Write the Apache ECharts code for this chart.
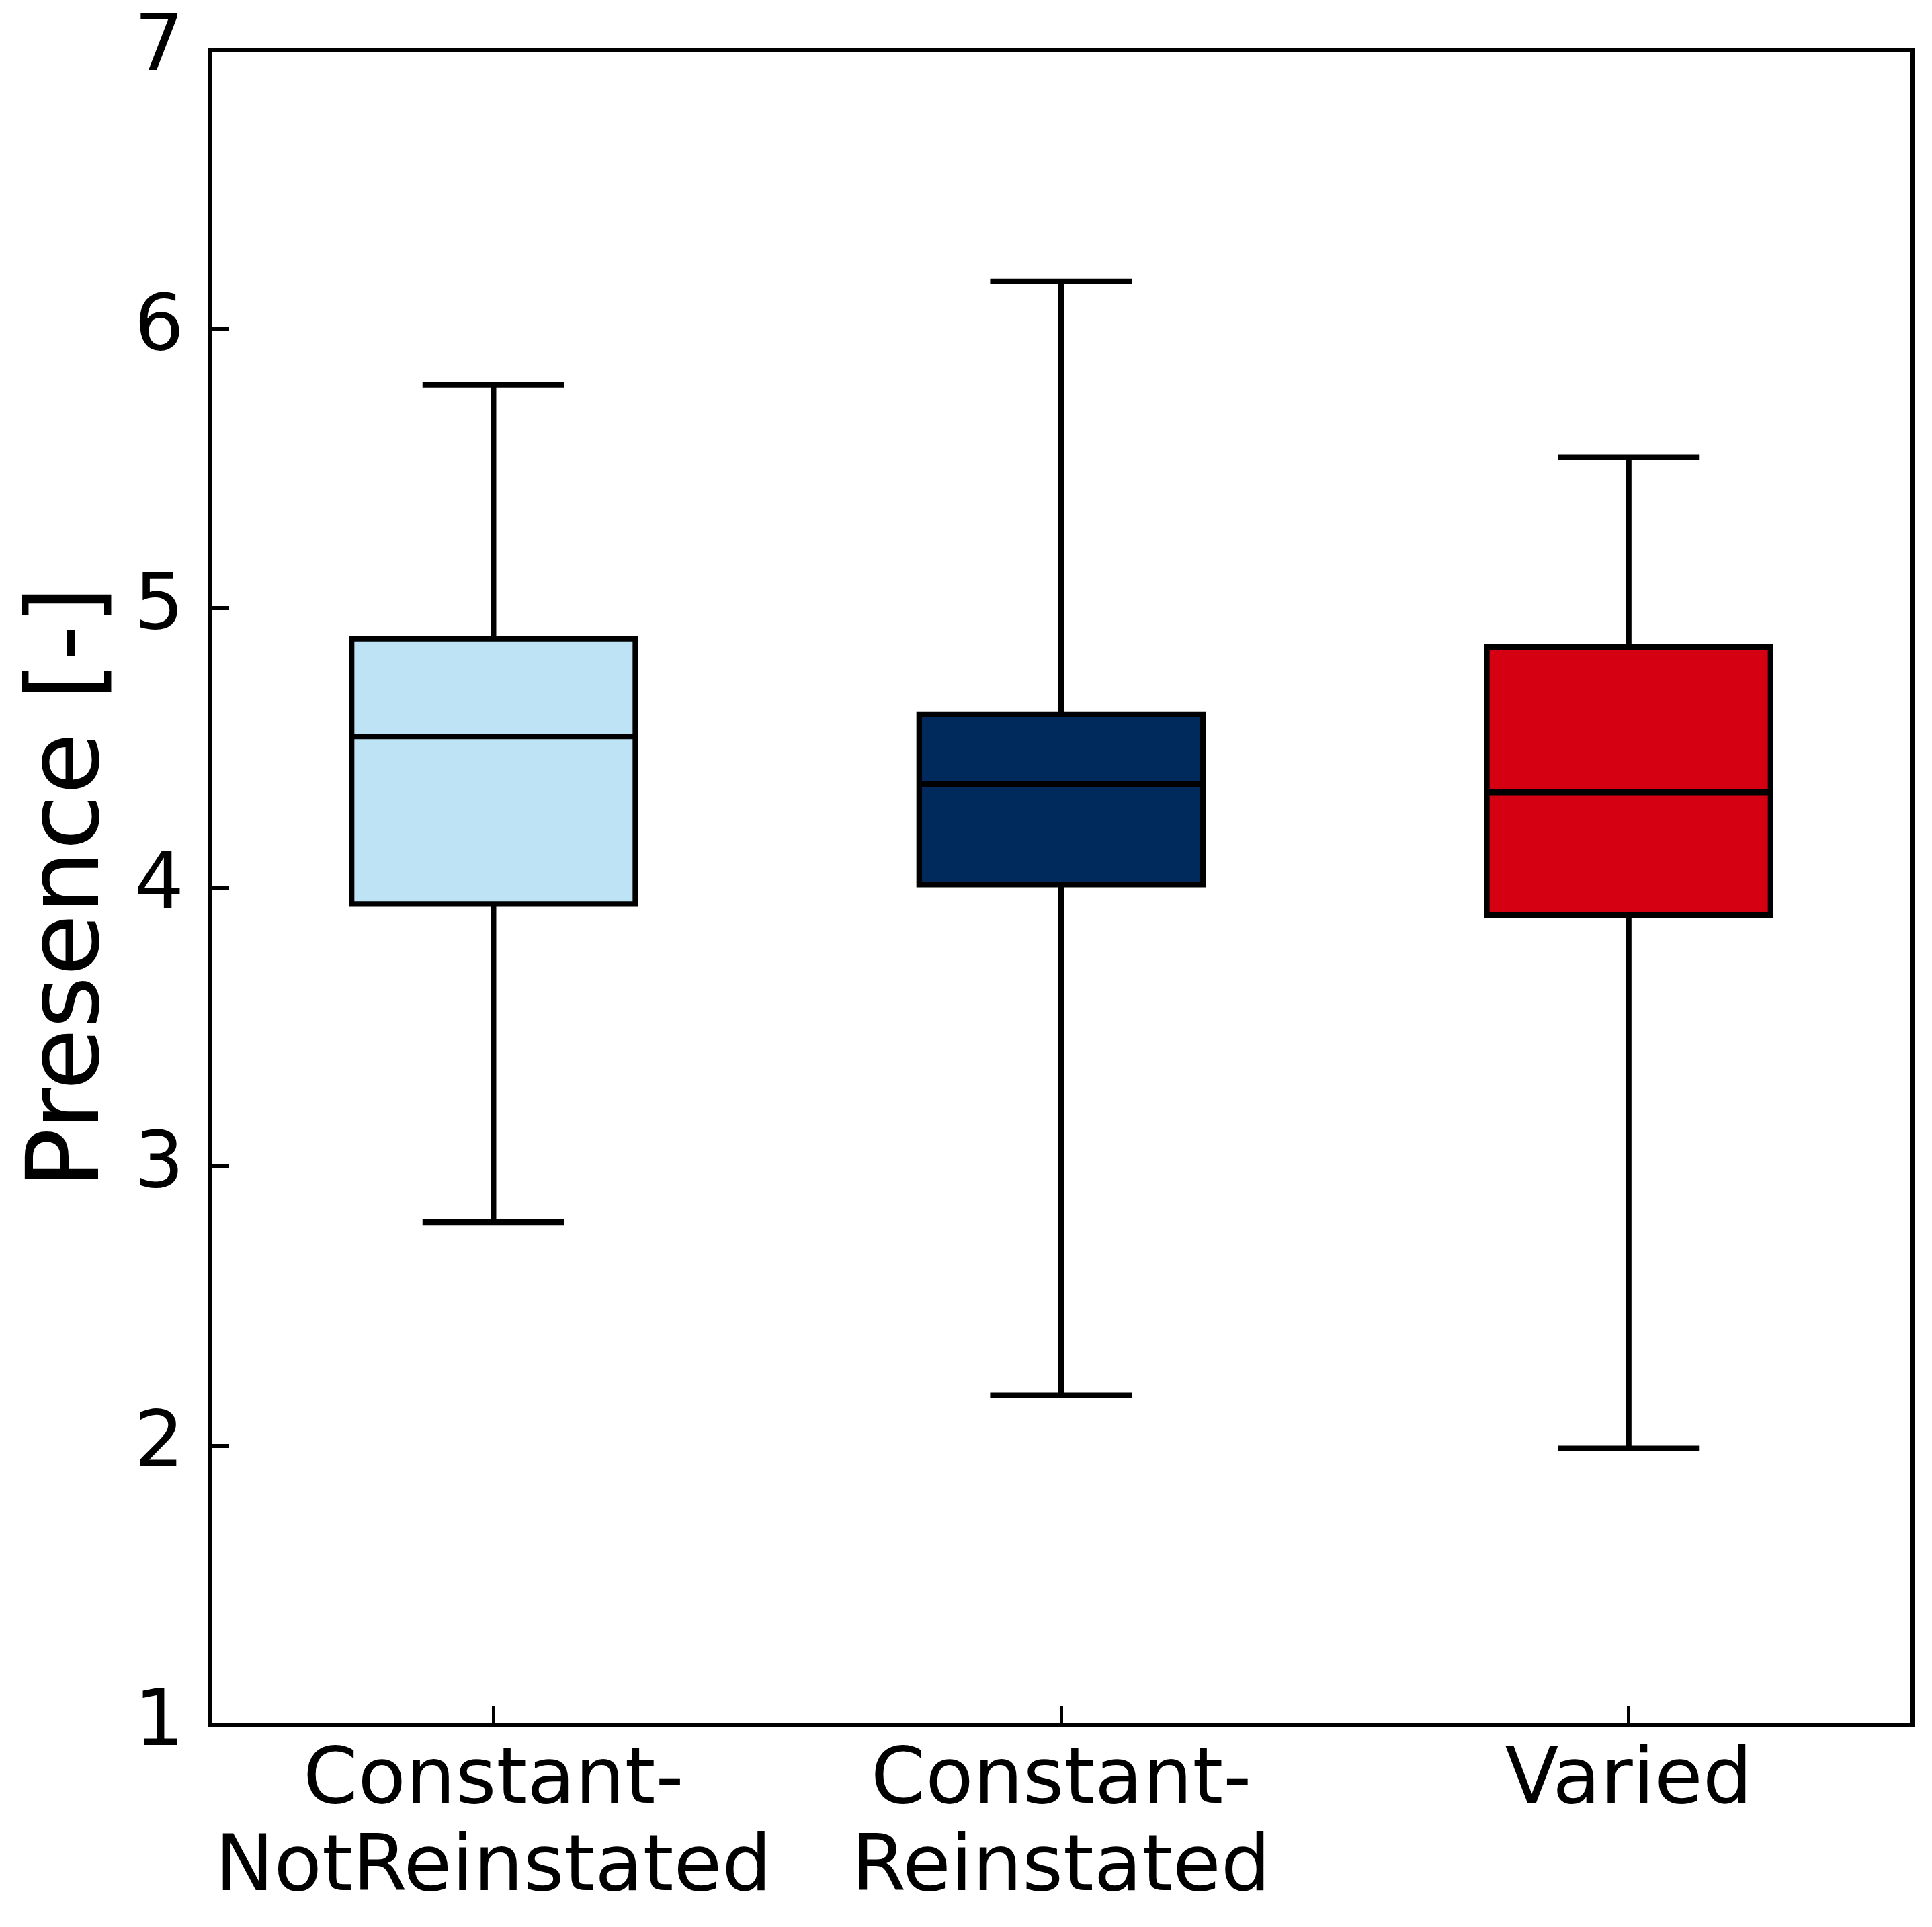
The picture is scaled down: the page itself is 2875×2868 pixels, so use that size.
<!DOCTYPE html>
<html>
<head>
<meta charset="utf-8">
<script src="https://cdn.jsdelivr.net/npm/echarts@6/dist/echarts.min.js"></script>
<style>
html,body{margin:0;padding:0;background:#fff;}
#chart{width:2875px;height:2868px;}
</style>
</head>
<body>
<div id="chart"></div>
<script>
// Data
var categories = ['Constant-\nNotReinstated', 'Constant-\nReinstated', 'Varied'];
// [lower whisker, Q1, median, Q3, upper whisker]
var notReinstated = [2.80, 3.94, 4.54, 4.89, 5.80];
var reinstated    = [2.18, 4.01, 4.37, 4.62, 6.17];
var varied        = [1.99, 3.90, 4.34, 4.86, 5.54];
var boxColors = ['#bee3f4', '#00295c', '#d50011'];
var yTicks = [1, 2, 3, 4, 5, 6, 7];

var stats = [notReinstated, reinstated, varied];
var seriesData = stats.map(function (s, i) { return [i].concat(s); });

var FONT = 'DejaVu Sans';
var chart = echarts.init(document.getElementById('chart'), null, {renderer: 'canvas'});

function renderBox(params, api) {
  var idx = api.value(0);
  var lo = api.coord([idx, api.value(1)]);
  var q1 = api.coord([idx, api.value(2)]);
  var md = api.coord([idx, api.value(3)]);
  var q3 = api.coord([idx, api.value(4)]);
  var hi = api.coord([idx, api.value(5)]);
  var band = api.size([1, 0])[0];
  var bw = band * 0.5;
  var cw = bw * 0.5;
  var x = lo[0];
  var lw = 8.3;
  var ls = {stroke: '#000', lineWidth: lw};
  return {
    type: 'group',
    children: [
      {type: 'line', shape: {x1: x, y1: q3[1], x2: x, y2: hi[1]}, style: ls},
      {type: 'line', shape: {x1: x, y1: q1[1], x2: x, y2: lo[1]}, style: ls},
      {type: 'line', shape: {x1: x - cw / 2, y1: hi[1], x2: x + cw / 2, y2: hi[1]}, style: ls},
      {type: 'line', shape: {x1: x - cw / 2, y1: lo[1], x2: x + cw / 2, y2: lo[1]}, style: ls},
      {type: 'rect', shape: {x: x - bw / 2, y: q3[1], width: bw, height: q1[1] - q3[1]},
        style: {fill: boxColors[idx], stroke: '#000', lineWidth: lw}},
      {type: 'line', shape: {x1: x - bw / 2, y1: md[1], x2: x + bw / 2, y2: md[1]}, style: ls}
    ]
  };
}

var option = {
  backgroundColor: '#ffffff',
  animation: false,
  grid: {
    left: 312, right: 29, top: 74, bottom: 301,
    show: true, borderColor: '#000', borderWidth: 6, backgroundColor: 'transparent',
    containLabel: false
  },
  xAxis: {
    type: 'category',
    data: categories,
    boundaryGap: true,
    axisLine: {show: false},
    axisTick: {show: true, inside: true, alignWithLabel: true, length: 28, lineStyle: {color: '#000', width: 5}},
    axisLabel: {color: '#000', fontSize: 116.7, fontFamily: FONT, lineHeight: 130, margin: 21, interval: 0},
    splitLine: {show: false}
  },
  yAxis: {
    type: 'value',
    min: yTicks[0], max: yTicks[yTicks.length - 1], interval: 1,
    axisLine: {show: false},
    axisTick: {show: true, inside: true, length: 29, lineStyle: {color: '#000', width: 6}},
    axisLabel: {color: '#000', fontSize: 116.7, fontFamily: FONT, margin: 38},
    splitLine: {show: false},
    name: 'Presence [-]',
    nameLocation: 'middle',
    nameGap: 130,
    nameTextStyle: {color: '#000', fontSize: 150, fontFamily: FONT}
  },
  series: [{
    type: 'custom',
    renderItem: renderBox,
    encode: {x: 0, y: [1, 2, 3, 4, 5]},
    data: seriesData,
    clip: false
  }]
};
chart.setOption(option);
</script>
</body>
</html>
